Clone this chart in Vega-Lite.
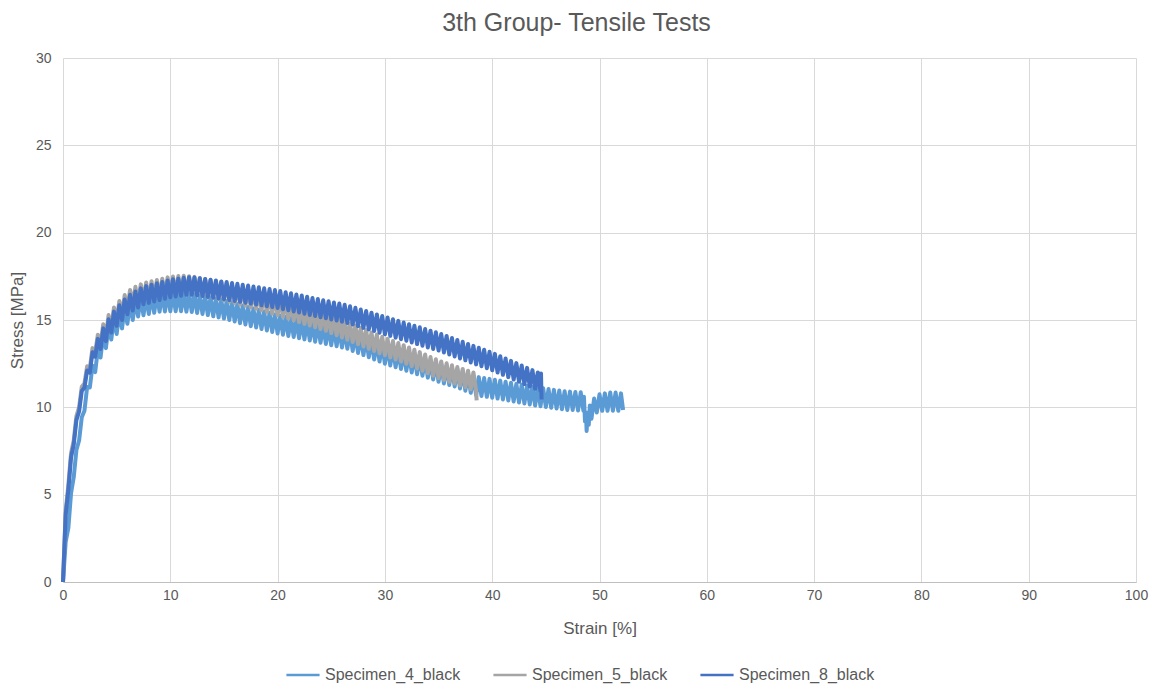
{
  "$schema": "https://vega.github.io/schema/vega-lite/v6.json",
  "autosize": {"type": "none"},
  "width": 1073,
  "height": 524,
  "padding": {"left": 63, "top": 58, "right": 22, "bottom": 106},
  "background": "#ffffff",
  "view": {"stroke": null},
  "config": {
    "font": "Liberation Sans",
    "axis": {
      "labelFont": "Liberation Sans",
      "labelFontSize": 14,
      "labelColor": "#595959",
      "titleFont": "Liberation Sans",
      "titleFontSize": 17,
      "titleFontWeight": "normal",
      "titleColor": "#595959",
      "gridColor": "#D9D9D9",
      "gridWidth": 1,
      "ticks": false,
      "domain": false,
      "labelFlush": false
    },
    "legend": {
      "labelFont": "Liberation Sans",
      "labelFontSize": 16,
      "labelColor": "#595959"
    }
  },
  "title": {
    "text": "3th Group- Tensile Tests",
    "font": "Liberation Sans",
    "fontSize": 25,
    "fontWeight": "normal",
    "color": "#595959",
    "anchor": "middle",
    "dx": -23,
    "offset": 15
  },
  "datasets": {
    "specimen4": [
      {"strain":0,"stress":0},{"strain":0.25,"stress":2.3},{"strain":0.5,"stress":3.1},{"strain":0.75,"stress":5.08},{"strain":1,"stress":6.0},{"strain":1.25,"stress":7.56},{"strain":1.5,"stress":8.1},{"strain":1.75,"stress":9.43},{"strain":2,"stress":9.8},{"strain":2.25,"stress":11.17},{"strain":2.5,"stress":11.14},{"strain":2.75,"stress":12.38},{"strain":3,"stress":12.02},{"strain":3.25,"stress":13.34},{"strain":3.5,"stress":12.85},{"strain":3.75,"stress":14.17},{"strain":4,"stress":13.39},{"strain":4.25,"stress":14.69},{"strain":4.5,"stress":13.88},{"strain":4.75,"stress":15.09},{"strain":5,"stress":14.2},{"strain":5.25,"stress":15.41},{"strain":5.5,"stress":14.52},{"strain":5.75,"stress":15.71},{"strain":6,"stress":14.79},{"strain":6.25,"stress":15.95},{"strain":6.5,"stress":15.0},{"strain":6.75,"stress":16.15},{"strain":7,"stress":15.2},{"strain":7.25,"stress":16.29},{"strain":7.5,"stress":15.27},{"strain":7.75,"stress":16.36},{"strain":8,"stress":15.34},{"strain":8.25,"stress":16.43},{"strain":8.5,"stress":15.41},{"strain":8.75,"stress":16.5},{"strain":9,"stress":15.48},{"strain":9.25,"stress":16.54},{"strain":9.5,"stress":15.49},{"strain":9.75,"stress":16.55},{"strain":10,"stress":15.5},{"strain":10.25,"stress":16.55},{"strain":10.5,"stress":15.5},{"strain":10.75,"stress":16.55},{"strain":11,"stress":15.5},{"strain":11.25,"stress":16.54},{"strain":11.5,"stress":15.48},{"strain":11.75,"stress":16.52},{"strain":12,"stress":15.46},{"strain":12.25,"stress":16.48},{"strain":12.5,"stress":15.4},{"strain":12.75,"stress":16.42},{"strain":13,"stress":15.34},{"strain":13.25,"stress":16.36},{"strain":13.5,"stress":15.28},{"strain":13.75,"stress":16.3},{"strain":14,"stress":15.21},{"strain":14.25,"stress":16.23},{"strain":14.5,"stress":15.15},{"strain":14.75,"stress":16.17},{"strain":15,"stress":15.08},{"strain":15.25,"stress":16.09},{"strain":15.5,"stress":15.0},{"strain":15.75,"stress":16.01},{"strain":16,"stress":14.91},{"strain":16.25,"stress":15.92},{"strain":16.5,"stress":14.82},{"strain":16.75,"stress":15.83},{"strain":17,"stress":14.74},{"strain":17.25,"stress":15.75},{"strain":17.5,"stress":14.65},{"strain":17.75,"stress":15.66},{"strain":18,"stress":14.57},{"strain":18.25,"stress":15.58},{"strain":18.5,"stress":14.48},{"strain":18.75,"stress":15.49},{"strain":19,"stress":14.4},{"strain":19.25,"stress":15.41},{"strain":19.5,"stress":14.31},{"strain":19.75,"stress":15.32},{"strain":20,"stress":14.23},{"strain":20.25,"stress":15.25},{"strain":20.5,"stress":14.16},{"strain":20.75,"stress":15.18},{"strain":21,"stress":14.09},{"strain":21.25,"stress":15.11},{"strain":21.5,"stress":14.03},{"strain":21.75,"stress":15.05},{"strain":22,"stress":13.96},{"strain":22.25,"stress":14.98},{"strain":22.5,"stress":13.89},{"strain":22.75,"stress":14.91},{"strain":23,"stress":13.83},{"strain":23.25,"stress":14.85},{"strain":23.5,"stress":13.76},{"strain":23.75,"stress":14.78},{"strain":24,"stress":13.7},{"strain":24.25,"stress":14.72},{"strain":24.5,"stress":13.63},{"strain":24.75,"stress":14.65},{"strain":25,"stress":13.56},{"strain":25.25,"stress":14.58},{"strain":25.5,"stress":13.5},{"strain":25.75,"stress":14.52},{"strain":26,"stress":13.43},{"strain":26.25,"stress":14.45},{"strain":26.5,"stress":13.36},{"strain":26.75,"stress":14.35},{"strain":27,"stress":13.23},{"strain":27.25,"stress":14.22},{"strain":27.5,"stress":13.11},{"strain":27.75,"stress":14.1},{"strain":28,"stress":12.99},{"strain":28.25,"stress":13.98},{"strain":28.5,"stress":12.87},{"strain":28.75,"stress":13.86},{"strain":29,"stress":12.74},{"strain":29.25,"stress":13.73},{"strain":29.5,"stress":12.62},{"strain":29.75,"stress":13.61},{"strain":30,"stress":12.5},{"strain":30.25,"stress":13.5},{"strain":30.5,"stress":12.4},{"strain":30.75,"stress":13.4},{"strain":31,"stress":12.3},{"strain":31.25,"stress":13.3},{"strain":31.5,"stress":12.2},{"strain":31.75,"stress":13.2},{"strain":32,"stress":12.1},{"strain":32.25,"stress":13.1},{"strain":32.5,"stress":12.0},{"strain":32.75,"stress":13.0},{"strain":33,"stress":11.9},{"strain":33.25,"stress":12.91},{"strain":33.5,"stress":11.81},{"strain":33.75,"stress":12.81},{"strain":34,"stress":11.7},{"strain":34.25,"stress":12.7},{"strain":34.5,"stress":11.59},{"strain":34.75,"stress":12.58},{"strain":35,"stress":11.47},{"strain":35.25,"stress":12.47},{"strain":35.5,"stress":11.37},{"strain":35.75,"stress":12.38},{"strain":36,"stress":11.28},{"strain":36.25,"stress":12.29},{"strain":36.5,"stress":11.19},{"strain":36.75,"stress":12.19},{"strain":37,"stress":11.08},{"strain":37.25,"stress":12.07},{"strain":37.5,"stress":10.95},{"strain":37.75,"stress":11.94},{"strain":38,"stress":10.83},{"strain":38.25,"stress":11.82},{"strain":38.5,"stress":10.7},{"strain":38.75,"stress":11.73},{"strain":39,"stress":10.65},{"strain":39.25,"stress":11.68},{"strain":39.5,"stress":10.6},{"strain":39.75,"stress":11.63},{"strain":40,"stress":10.55},{"strain":40.25,"stress":11.58},{"strain":40.5,"stress":10.5},{"strain":40.75,"stress":11.53},{"strain":41,"stress":10.45},{"strain":41.25,"stress":11.47},{"strain":41.5,"stress":10.39},{"strain":41.75,"stress":11.41},{"strain":42,"stress":10.33},{"strain":42.25,"stress":11.35},{"strain":42.5,"stress":10.28},{"strain":42.75,"stress":11.3},{"strain":43,"stress":10.22},{"strain":43.25,"stress":11.24},{"strain":43.5,"stress":10.16},{"strain":43.75,"stress":11.18},{"strain":44,"stress":10.1},{"strain":44.25,"stress":11.13},{"strain":44.5,"stress":10.06},{"strain":44.75,"stress":11.09},{"strain":45,"stress":10.02},{"strain":45.25,"stress":11.05},{"strain":45.5,"stress":9.98},{"strain":45.75,"stress":11.0},{"strain":46,"stress":9.93},{"strain":46.25,"stress":10.96},{"strain":46.5,"stress":9.89},{"strain":46.75,"stress":10.92},{"strain":47,"stress":9.85},{"strain":47.25,"stress":10.9},{"strain":47.5,"stress":9.85},{"strain":47.75,"stress":10.88},{"strain":48,"stress":9.82},{"strain":48.25,"stress":10.86},{"strain":48.5,"stress":9.8},{"strain":48.55,"stress":10.6},{"strain":48.65,"stress":9.2},{"strain":48.75,"stress":9.5},{"strain":48.8,"stress":8.65},{"strain":48.9,"stress":9.7},{"strain":49,"stress":9.0},{"strain":49.1,"stress":10.1},{"strain":49.25,"stress":9.35},{"strain":49.5,"stress":10.5},{"strain":49.75,"stress":9.7},{"strain":50,"stress":10.75},{"strain":50.25,"stress":9.8},{"strain":50.5,"stress":10.8},{"strain":50.75,"stress":9.8},{"strain":51,"stress":10.85},{"strain":51.25,"stress":9.8},{"strain":51.5,"stress":10.85},{"strain":51.75,"stress":9.8},{"strain":52,"stress":10.8},{"strain":52.2,"stress":9.85}
    ],
    "specimen5": [
      {"strain":0,"stress":0},{"strain":0.25,"stress":4.1},{"strain":0.5,"stress":5.55},{"strain":0.75,"stress":7.38},{"strain":1,"stress":8.1},{"strain":1.25,"stress":9.5},{"strain":1.5,"stress":10.0},{"strain":1.75,"stress":11.18},{"strain":2,"stress":11.37},{"strain":2.25,"stress":12.35},{"strain":2.5,"stress":12.23},{"strain":2.75,"stress":13.39},{"strain":3,"stress":13.14},{"strain":3.25,"stress":14.16},{"strain":3.5,"stress":13.58},{"strain":3.75,"stress":14.76},{"strain":4,"stress":14.03},{"strain":4.25,"stress":15.28},{"strain":4.5,"stress":14.52},{"strain":4.75,"stress":15.72},{"strain":5,"stress":14.92},{"strain":5.25,"stress":16.09},{"strain":5.5,"stress":15.25},{"strain":5.75,"stress":16.43},{"strain":6,"stress":15.6},{"strain":6.25,"stress":16.72},{"strain":6.5,"stress":15.84},{"strain":6.75,"stress":16.9},{"strain":7,"stress":15.97},{"strain":7.25,"stress":17.04},{"strain":7.5,"stress":16.11},{"strain":7.75,"stress":17.15},{"strain":8,"stress":16.18},{"strain":8.25,"stress":17.22},{"strain":8.5,"stress":16.25},{"strain":8.75,"stress":17.29},{"strain":9,"stress":16.32},{"strain":9.25,"stress":17.36},{"strain":9.5,"stress":16.4},{"strain":9.75,"stress":17.44},{"strain":10,"stress":16.47},{"strain":10.25,"stress":17.49},{"strain":10.5,"stress":16.5},{"strain":10.75,"stress":17.52},{"strain":11,"stress":16.53},{"strain":11.25,"stress":17.53},{"strain":11.5,"stress":16.52},{"strain":11.75,"stress":17.51},{"strain":12,"stress":16.5},{"strain":12.25,"stress":17.47},{"strain":12.5,"stress":16.44},{"strain":12.75,"stress":17.41},{"strain":13,"stress":16.38},{"strain":13.25,"stress":17.35},{"strain":13.5,"stress":16.32},{"strain":13.75,"stress":17.29},{"strain":14,"stress":16.26},{"strain":14.25,"stress":17.23},{"strain":14.5,"stress":16.2},{"strain":14.75,"stress":17.17},{"strain":15,"stress":16.13},{"strain":15.25,"stress":17.09},{"strain":15.5,"stress":16.05},{"strain":15.75,"stress":17.01},{"strain":16,"stress":15.97},{"strain":16.25,"stress":16.93},{"strain":16.5,"stress":15.89},{"strain":16.75,"stress":16.85},{"strain":17,"stress":15.81},{"strain":17.25,"stress":16.77},{"strain":17.5,"stress":15.73},{"strain":17.75,"stress":16.69},{"strain":18,"stress":15.65},{"strain":18.25,"stress":16.6},{"strain":18.5,"stress":15.55},{"strain":18.75,"stress":16.51},{"strain":19,"stress":15.46},{"strain":19.25,"stress":16.41},{"strain":19.5,"stress":15.36},{"strain":19.75,"stress":16.32},{"strain":20,"stress":15.27},{"strain":20.25,"stress":16.22},{"strain":20.5,"stress":15.17},{"strain":20.75,"stress":16.13},{"strain":21,"stress":15.08},{"strain":21.25,"stress":16.03},{"strain":21.5,"stress":14.98},{"strain":21.75,"stress":15.93},{"strain":22,"stress":14.88},{"strain":22.25,"stress":15.83},{"strain":22.5,"stress":14.78},{"strain":22.75,"stress":15.74},{"strain":23,"stress":14.69},{"strain":23.25,"stress":15.64},{"strain":23.5,"stress":14.59},{"strain":23.75,"stress":15.54},{"strain":24,"stress":14.49},{"strain":24.25,"stress":15.44},{"strain":24.5,"stress":14.38},{"strain":24.75,"stress":15.32},{"strain":25,"stress":14.25},{"strain":25.25,"stress":15.19},{"strain":25.5,"stress":14.13},{"strain":25.75,"stress":15.07},{"strain":26,"stress":14.0},{"strain":26.25,"stress":14.94},{"strain":26.5,"stress":13.87},{"strain":26.75,"stress":14.81},{"strain":27,"stress":13.74},{"strain":27.25,"stress":14.68},{"strain":27.5,"stress":13.61},{"strain":27.75,"stress":14.55},{"strain":28,"stress":13.48},{"strain":28.25,"stress":14.42},{"strain":28.5,"stress":13.35},{"strain":28.75,"stress":14.29},{"strain":29,"stress":13.23},{"strain":29.25,"stress":14.17},{"strain":29.5,"stress":13.1},{"strain":29.75,"stress":14.04},{"strain":30,"stress":12.98},{"strain":30.25,"stress":13.92},{"strain":30.5,"stress":12.86},{"strain":30.75,"stress":13.8},{"strain":31,"stress":12.74},{"strain":31.25,"stress":13.68},{"strain":31.5,"stress":12.62},{"strain":31.75,"stress":13.56},{"strain":32,"stress":12.5},{"strain":32.25,"stress":13.43},{"strain":32.5,"stress":12.36},{"strain":32.75,"stress":13.3},{"strain":33,"stress":12.23},{"strain":33.25,"stress":13.16},{"strain":33.5,"stress":12.09},{"strain":33.75,"stress":13.02},{"strain":34,"stress":11.95},{"strain":34.25,"stress":12.88},{"strain":34.5,"stress":11.81},{"strain":34.75,"stress":12.75},{"strain":35,"stress":11.68},{"strain":35.25,"stress":12.63},{"strain":35.5,"stress":11.57},{"strain":35.75,"stress":12.52},{"strain":36,"stress":11.46},{"strain":36.25,"stress":12.41},{"strain":36.5,"stress":11.36},{"strain":36.75,"stress":12.31},{"strain":37,"stress":11.25},{"strain":37.25,"stress":12.2},{"strain":37.5,"stress":11.15},{"strain":37.75,"stress":12.1},{"strain":38,"stress":11.04},{"strain":38.25,"stress":12.0},{"strain":38.5,"stress":10.95},{"strain":38.55,"stress":10.4}
    ],
    "specimen8": [
      {"strain":0,"stress":0},{"strain":0.25,"stress":3.85},{"strain":0.5,"stress":5.3},{"strain":0.75,"stress":7.13},{"strain":1,"stress":7.86},{"strain":1.25,"stress":9.27},{"strain":1.5,"stress":9.76},{"strain":1.75,"stress":10.94},{"strain":2,"stress":11.13},{"strain":2.25,"stress":12.11},{"strain":2.5,"stress":11.99},{"strain":2.75,"stress":13.15},{"strain":3,"stress":12.9},{"strain":3.25,"stress":13.92},{"strain":3.5,"stress":13.34},{"strain":3.75,"stress":14.52},{"strain":4,"stress":13.79},{"strain":4.25,"stress":15.04},{"strain":4.5,"stress":14.28},{"strain":4.75,"stress":15.48},{"strain":5,"stress":14.67},{"strain":5.25,"stress":15.84},{"strain":5.5,"stress":15.0},{"strain":5.75,"stress":16.17},{"strain":6,"stress":15.33},{"strain":6.25,"stress":16.44},{"strain":6.5,"stress":15.54},{"strain":6.75,"stress":16.63},{"strain":7,"stress":15.72},{"strain":7.25,"stress":16.81},{"strain":7.5,"stress":15.9},{"strain":7.75,"stress":16.94},{"strain":8,"stress":15.98},{"strain":8.25,"stress":17.02},{"strain":8.5,"stress":16.06},{"strain":8.75,"stress":17.1},{"strain":9,"stress":16.14},{"strain":9.25,"stress":17.18},{"strain":9.5,"stress":16.22},{"strain":9.75,"stress":17.26},{"strain":10,"stress":16.3},{"strain":10.25,"stress":17.33},{"strain":10.5,"stress":16.35},{"strain":10.75,"stress":17.37},{"strain":11,"stress":16.39},{"strain":11.25,"stress":17.42},{"strain":11.5,"stress":16.44},{"strain":11.75,"stress":17.45},{"strain":12,"stress":16.45},{"strain":12.25,"stress":17.43},{"strain":12.5,"stress":16.41},{"strain":12.75,"stress":17.39},{"strain":13,"stress":16.37},{"strain":13.25,"stress":17.35},{"strain":13.5,"stress":16.32},{"strain":13.75,"stress":17.3},{"strain":14,"stress":16.28},{"strain":14.25,"stress":17.26},{"strain":14.5,"stress":16.23},{"strain":14.75,"stress":17.21},{"strain":15,"stress":16.19},{"strain":15.25,"stress":17.17},{"strain":15.5,"stress":16.14},{"strain":15.75,"stress":17.12},{"strain":16,"stress":16.09},{"strain":16.25,"stress":17.07},{"strain":16.5,"stress":16.04},{"strain":16.75,"stress":17.02},{"strain":17,"stress":15.99},{"strain":17.25,"stress":16.97},{"strain":17.5,"stress":15.94},{"strain":17.75,"stress":16.92},{"strain":18,"stress":15.89},{"strain":18.25,"stress":16.87},{"strain":18.5,"stress":15.84},{"strain":18.75,"stress":16.82},{"strain":19,"stress":15.79},{"strain":19.25,"stress":16.77},{"strain":19.5,"stress":15.74},{"strain":19.75,"stress":16.72},{"strain":20,"stress":15.69},{"strain":20.25,"stress":16.66},{"strain":20.5,"stress":15.62},{"strain":20.75,"stress":16.59},{"strain":21,"stress":15.56},{"strain":21.25,"stress":16.53},{"strain":21.5,"stress":15.49},{"strain":21.75,"stress":16.46},{"strain":22,"stress":15.43},{"strain":22.25,"stress":16.4},{"strain":22.5,"stress":15.36},{"strain":22.75,"stress":16.33},{"strain":23,"stress":15.29},{"strain":23.25,"stress":16.26},{"strain":23.5,"stress":15.23},{"strain":23.75,"stress":16.2},{"strain":24,"stress":15.16},{"strain":24.25,"stress":16.13},{"strain":24.5,"stress":15.1},{"strain":24.75,"stress":16.07},{"strain":25,"stress":15.03},{"strain":25.25,"stress":16.0},{"strain":25.5,"stress":14.97},{"strain":25.75,"stress":15.94},{"strain":26,"stress":14.9},{"strain":26.25,"stress":15.87},{"strain":26.5,"stress":14.83},{"strain":26.75,"stress":15.79},{"strain":27,"stress":14.74},{"strain":27.25,"stress":15.7},{"strain":27.5,"stress":14.65},{"strain":27.75,"stress":15.6},{"strain":28,"stress":14.55},{"strain":28.25,"stress":15.51},{"strain":28.5,"stress":14.46},{"strain":28.75,"stress":15.42},{"strain":29,"stress":14.37},{"strain":29.25,"stress":15.32},{"strain":29.5,"stress":14.27},{"strain":29.75,"stress":15.23},{"strain":30,"stress":14.18},{"strain":30.25,"stress":15.14},{"strain":30.5,"stress":14.09},{"strain":30.75,"stress":15.04},{"strain":31,"stress":13.99},{"strain":31.25,"stress":14.95},{"strain":31.5,"stress":13.9},{"strain":31.75,"stress":14.86},{"strain":32,"stress":13.81},{"strain":32.25,"stress":14.76},{"strain":32.5,"stress":13.71},{"strain":32.75,"stress":14.67},{"strain":33,"stress":13.62},{"strain":33.25,"stress":14.58},{"strain":33.5,"stress":13.53},{"strain":33.75,"stress":14.48},{"strain":34,"stress":13.43},{"strain":34.25,"stress":14.39},{"strain":34.5,"stress":13.34},{"strain":34.75,"stress":14.3},{"strain":35,"stress":13.25},{"strain":35.25,"stress":14.2},{"strain":35.5,"stress":13.14},{"strain":35.75,"stress":14.09},{"strain":36,"stress":13.03},{"strain":36.25,"stress":13.97},{"strain":36.5,"stress":12.91},{"strain":36.75,"stress":13.86},{"strain":37,"stress":12.8},{"strain":37.25,"stress":13.75},{"strain":37.5,"stress":12.69},{"strain":37.75,"stress":13.63},{"strain":38,"stress":12.57},{"strain":38.25,"stress":13.52},{"strain":38.5,"stress":12.46},{"strain":38.75,"stress":13.41},{"strain":39,"stress":12.35},{"strain":39.25,"stress":13.3},{"strain":39.5,"stress":12.24},{"strain":39.75,"stress":13.18},{"strain":40,"stress":12.12},{"strain":40.25,"stress":13.06},{"strain":40.5,"stress":11.99},{"strain":40.75,"stress":12.93},{"strain":41,"stress":11.86},{"strain":41.25,"stress":12.8},{"strain":41.5,"stress":11.73},{"strain":41.75,"stress":12.66},{"strain":42,"stress":11.59},{"strain":42.25,"stress":12.53},{"strain":42.5,"stress":11.46},{"strain":42.75,"stress":12.4},{"strain":43,"stress":11.33},{"strain":43.25,"stress":12.26},{"strain":43.5,"stress":11.19},{"strain":43.75,"stress":12.13},{"strain":44,"stress":11.06},{"strain":44.25,"stress":12.0},{"strain":44.5,"stress":10.93},{"strain":44.55,"stress":11.93},{"strain":44.6,"stress":10.45}
    ]
  },
  "encoding": {
    "x": {
      "field": "strain",
      "type": "quantitative",
      "title": "Strain [%]",
      "scale": {"domain": [0, 100], "nice": false},
      "axis": {
        "values": [0, 10, 20, 30, 40, 50, 60, 70, 80, 90, 100],
        "labelPadding": 6,
        "titlePadding": 18,
        "domain": true,
        "domainColor": "#BFBFBF"
      }
    },
    "y": {
      "field": "stress",
      "type": "quantitative",
      "title": "Stress [MPa]",
      "scale": {"domain": [0, 30], "nice": false},
      "axis": {
        "values": [0, 5, 10, 15, 20, 25, 30],
        "labelPadding": 12,
        "titlePadding": 9
      }
    },
    "color": {
      "type": "nominal",
      "scale": {
        "domain": ["Specimen_4_black", "Specimen_5_black", "Specimen_8_black"],
        "range": ["#5B9BD5", "#A5A5A5", "#4472C4"]
      },
      "legend": {
        "title": null,
        "orient": "none",
        "legendX": 222,
        "legendY": 599,
        "direction": "horizontal",
        "symbolType": "stroke",
        "symbolSize": 1100,
        "symbolStrokeWidth": 2.5,
        "columnPadding": 27,
        "labelOffset": 4
      }
    }
  },
  "layer": [
    {
      "data": {"name": "specimen4"},
      "mark": {"type": "line", "strokeWidth": 4, "strokeJoin": "round", "strokeCap": "butt"},
      "encoding": {"color": {"datum": "Specimen_4_black"}}
    },
    {
      "data": {"name": "specimen5"},
      "mark": {"type": "line", "strokeWidth": 4, "strokeJoin": "round", "strokeCap": "butt"},
      "encoding": {"color": {"datum": "Specimen_5_black"}}
    },
    {
      "data": {"name": "specimen8"},
      "mark": {"type": "line", "strokeWidth": 4, "strokeJoin": "round", "strokeCap": "butt"},
      "encoding": {"color": {"datum": "Specimen_8_black"}}
    }
  ]
}
